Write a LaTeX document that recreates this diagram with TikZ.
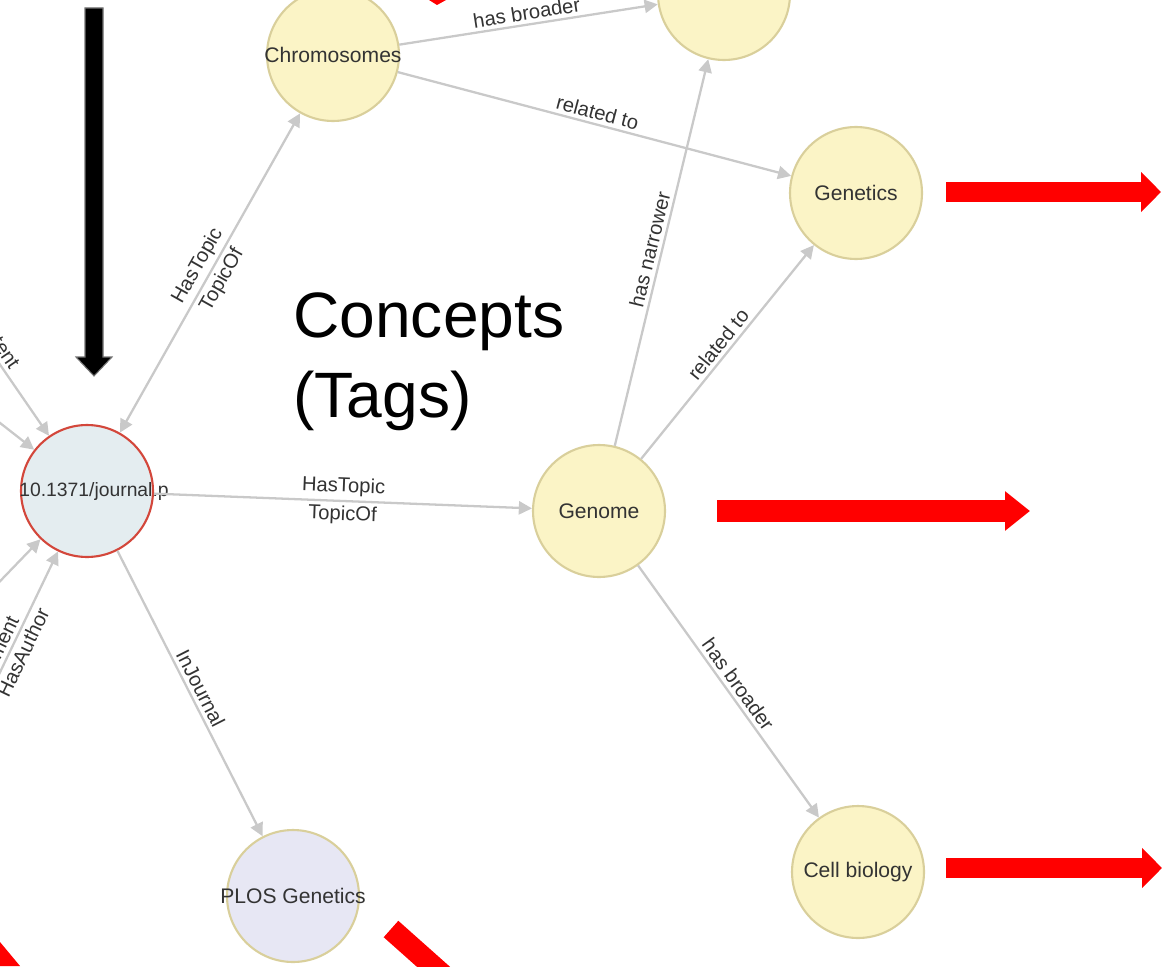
\documentclass[tikz,border=0pt]{standalone}
\usepackage{fontspec}
\setmainfont{Liberation Sans}
\usepackage{xcolor}
\usetikzlibrary{arrows.meta}

\definecolor{conceptfill}{HTML}{FBF4C6}
\definecolor{conceptline}{HTML}{D9CF9B}
\definecolor{paperfill}{HTML}{E4EDF0}
\definecolor{paperline}{HTML}{D3473B}
\definecolor{journalfill}{HTML}{E7E7F4}
\definecolor{edgegray}{HTML}{C9C9C9}
\definecolor{labelgray}{HTML}{333333}
\definecolor{markred}{HTML}{FF0000}

\begin{document}
\begin{tikzpicture}[
    x=0.02cm, y=-0.02cm,
    concept/.style={
        circle,
        draw=conceptline,
        line width=1.2pt,
        fill=conceptfill,
        minimum size=2.64cm,
        inner sep=0pt
    },
    paper/.style={concept, draw=paperline, fill=paperfill},
    journal/.style={concept, fill=journalfill},
    nodetext/.style={text=labelgray, font=\fontsize{12}{14}\selectfont},
    rel/.style={draw=edgegray, line width=1.3pt, -{Triangle[length=7.5pt,width=7.5pt]}},
    relboth/.style={rel, {Triangle[length=7.5pt,width=7.5pt]}-{Triangle[length=7.5pt,width=7.5pt]}},
    elabel/.style={text=labelgray, font=\fontsize{11.5}{13}\selectfont, sloped, inner sep=2pt},
    pointer/.style={draw=markred, line width=0.4cm, -{Triangle[length=0.4cm,width=0.78cm]}},
    marker/.style={fill=black, draw=black!55, line width=0.6pt}
]
\useasboundingbox (0,0) rectangle (1165,966);
\clip (0,0) rectangle (1165,966);

% Main nodes
\node[paper, label={[nodetext, font=\fontsize{11}{13}\selectfont, xshift=0.14cm]center:10.1371/journal.p}] (paper) at (87,491) {};
\node[concept, label={[nodetext]center:Chromosomes}] (chrom) at (333,55) {};
\node[concept] (upper) at (724,-6) {};
\node[concept, label={[nodetext]center:Genetics}] (genetics) at (856,193) {};
\node[concept, label={[nodetext]center:Genome}] (genome) at (599,511) {};
\node[concept, label={[nodetext]center:Cell biology}] (cellbio) at (858,872) {};
\node[journal, label={[nodetext]center:PLOS Genetics}] (plos) at (293,896) {};

% Heading
\node[font=\fontsize{36.5}{46}\selectfont, align=left, anchor=north west, inner sep=0pt] (tags) at (293,292) {Concepts\\(Tags)};

% Edges coming in from outside
\coordinate (inA) at (-39,308);
\coordinate (inB) at (-60,376);
\coordinate (inC) at (-48,631);
\coordinate (inD) at (-57,791);

% Relations
\draw[relboth] (paper) -- node[elabel, above] {HasTopic} node[elabel, below] {TopicOf} (chrom);
\draw[rel] (paper) -- node[elabel, above] {HasTopic} node[elabel, below] {TopicOf} (genome);
\draw[rel] (paper) -- node[elabel, above] {InJournal} (plos);
\draw[rel] (chrom) -- node[elabel, above] {has broader} (upper);
\draw[rel] (chrom) -- node[elabel, above] {related to} (genetics);
\draw[rel] (genome) -- node[elabel, above] {has narrower} (upper);
\draw[rel] (genome) -- node[elabel, above] {related to} (genetics);
\draw[rel] (genome) -- node[elabel, above] {has broader} (cellbio);
\draw[rel] (inA) -- node[elabel, above, pos=0.4] {tent} (paper);
\draw[rel] (inB) -- (paper);
\draw[rel] (inC) -- (paper);
\draw[rel] (inD) -- node[elabel, above, pos=0.62] {ment} node[elabel, below, pos=0.6] {HasAuthor} (paper);

% Markers
\draw[marker] (85,8) -- (103,8) -- (103,357) -- (112,357) -- (94,376) -- (76,357) -- (85,357) -- cycle;
\draw[pointer] (946,192) -- (1161,192);
\draw[pointer, line width=0.44cm, -{Triangle[length=0.5cm,width=0.76cm]}] (717,511) -- (1030,511);
\draw[pointer] (946,868) -- (1162,868);
\draw[draw=markred, line width=0.44cm] (391,929) -- (491,1018);
\fill[markred] (0,942) -- (20,966) -- (0,966) -- cycle;
\fill[markred] (429,0) -- (446,0) -- (437,5) -- cycle;

\end{tikzpicture}
\end{document}
